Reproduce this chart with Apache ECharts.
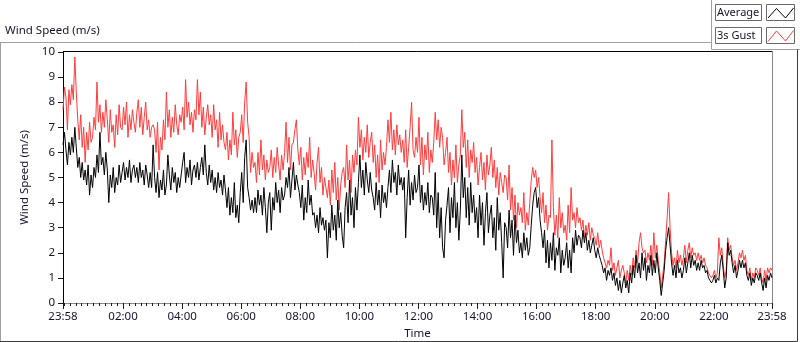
<!DOCTYPE html>
<html>
<head>
<meta charset="utf-8">
<title>Wind Speed</title>
<script src="https://cdn.jsdelivr.net/npm/echarts@6.0.0/dist/echarts.min.js"></script>
<style>
  html, body { margin: 0; padding: 0; background: #fff; }
  #chart { width: 800px; height: 342px; }
</style>
</head>
<body>
<div id="chart"></div>
<script>
// one sample every 3 minutes, starting 23:58
var stepMin = 3;

// 1 min average (m/s)
var average = [
  6.3, 6.8, 6.1, 5.5, 6.4, 5.9, 6.6, 6.0, 7.0, 6.2,  5.4, 5.8, 5.0, 5.6, 4.9, 5.3, 4.7, 5.5, 4.3, 5.1,
  4.6, 5.4, 5.0, 5.9, 5.2, 6.8, 5.5, 5.8, 5.1, 6.0,  5.3, 4.0, 5.1, 4.6, 5.4, 4.4, 5.0, 4.7, 5.5, 4.8,
  5.2, 5.6, 4.9, 5.4, 5.0, 5.7, 4.8, 5.3, 5.5, 5.0,  5.4, 4.8, 5.6, 5.0, 5.3, 4.7, 5.5, 5.1, 4.6, 5.2,
  4.6, 6.3, 5.0, 4.4, 5.2, 4.2, 4.9, 4.5, 5.3, 4.3,  4.7, 5.9, 5.1, 4.5, 5.4, 4.8, 5.2, 4.4, 5.0, 4.6,
  5.1, 5.6, 6.0, 4.8, 5.4, 5.0, 5.7, 4.7, 5.3, 5.5,  5.0, 5.6, 4.9, 5.4, 5.8, 5.1, 6.3, 5.2, 4.7, 5.5,
  4.8, 5.3, 4.5, 5.0, 4.4, 5.2, 4.6, 4.9, 4.3, 5.1,  4.5, 3.8, 4.6, 3.5, 4.2, 3.6, 4.8, 3.4, 3.9, 3.2,
  4.4, 5.2, 4.0, 5.8, 6.5, 4.6, 4.2, 3.7, 4.1, 3.6,  4.2, 3.6, 4.5, 3.9, 4.3, 3.5, 4.6, 3.8, 2.8, 4.0,
  4.4, 2.9, 4.2, 3.7, 4.8, 4.0, 4.5, 3.6, 4.6, 4.1,  4.3, 5.0, 4.6, 5.4, 4.2, 4.9, 5.6, 4.5, 5.1, 4.7,
  4.4, 3.8, 4.7, 3.3, 4.2, 3.6, 4.9, 3.9, 4.3, 3.5,  3.6, 3.0, 3.5, 2.8, 3.8, 3.1, 3.4, 2.9, 3.3, 1.8,
  3.2, 2.6, 3.9, 2.9, 3.5, 2.5, 4.1, 3.0, 3.6, 2.7,  2.2, 3.8, 4.4, 3.2, 4.9, 3.5, 4.2, 3.0, 4.6, 3.7,
  4.8, 5.9, 4.6, 5.3, 4.3, 5.6, 4.9, 4.4, 5.2, 4.5,  4.2, 3.7, 4.8, 3.9, 4.5, 3.4, 4.7, 4.0, 4.4, 3.8,
  4.6, 5.3, 4.4, 5.7, 4.8, 5.2, 4.3, 5.5, 4.7, 5.0,  4.5, 5.0, 2.6, 4.2, 5.3, 3.9, 4.8, 4.1, 5.1, 4.4,
  4.6, 5.5, 4.0, 4.7, 3.7, 4.4, 3.9, 4.8, 3.6, 4.3,  4.2, 3.5, 5.2, 3.0, 4.4, 2.6, 3.8, 2.2, 1.8, 3.3,
  3.9, 4.6, 2.8, 4.2, 3.4, 4.8, 3.0, 4.0, 2.5, 3.7,  5.9, 4.2, 5.0, 3.4, 4.6, 3.1, 4.8, 3.6, 4.3, 3.2,
  3.8, 2.6, 4.3, 3.1, 4.0, 2.3, 3.6, 4.4, 2.8, 3.5,  3.9, 2.6, 3.4, 2.1, 4.2, 2.9, 3.6, 2.4, 1.0, 3.2,
  3.0, 2.2, 3.7, 2.6, 3.3, 1.9, 3.5, 2.4, 2.9, 2.0,  2.4, 1.8, 2.8, 2.1, 2.6, 1.9, 2.2, 3.1, 3.9, 4.4,
  4.6, 3.8, 4.2, 3.3, 2.8, 2.2, 2.9, 1.6, 2.5, 1.4,  2.4, 1.7, 2.8, 1.3, 2.2, 1.9, 2.6, 1.2, 2.1, 1.5,
  1.8, 2.4, 1.4, 2.1, 1.2, 2.6, 2.0, 2.9, 2.3, 2.7,  2.6, 2.2, 2.9, 2.4, 2.8, 2.1, 2.5, 2.0, 2.3, 2.6,
  2.1, 1.8, 2.2, 1.9, 1.7, 1.5, 1.2, 1.4, 0.9, 1.3,  1.1, 1.4, 0.9, 1.2, 0.7, 1.0, 0.5, 0.9, 0.4, 0.8,
  1.1, 0.6, 0.9, 0.4, 1.2, 0.8, 1.5, 1.0, 1.9, 1.2,  1.6, 1.0, 2.0, 1.3, 1.8, 0.9, 1.5, 1.2, 1.9, 1.1,
  1.7, 1.2, 2.0, 1.4, 0.9, 0.3, 0.8, 1.3, 2.1, 2.6,  3.0, 2.3, 1.6, 1.1, 1.5, 1.0, 1.7, 1.2, 1.4, 1.0,
  1.3, 1.8, 1.2, 1.6, 2.0, 1.4, 1.9, 1.5, 1.7, 1.3,  1.6, 1.3, 1.7, 1.4, 1.5, 1.2, 1.3, 1.0, 0.9, 0.8,
  0.9, 1.1, 0.8, 1.0, 0.9, 1.6, 1.9, 1.3, 0.6, 1.0,  2.4, 1.9, 2.1, 1.6, 1.2, 1.5, 1.0, 1.3, 1.7, 1.4,
  1.7, 1.4, 1.6, 1.1, 0.9, 1.2, 0.7, 1.0, 0.8, 1.2,  1.1, 0.9, 1.2, 0.8, 0.5, 1.0, 0.6, 1.1, 0.9, 1.2,
  1.0
];

// 3 s gust (m/s)
var gust = [
  7.7, 8.6, 8.2, 6.9, 8.5, 7.9, 8.7, 8.1, 9.8, 8.4,  7.3, 6.5, 7.5, 6.2, 7.0, 5.6, 6.8, 6.1, 7.2, 6.4,
  6.6, 7.4, 6.9, 8.8, 7.2, 7.9, 6.8, 7.6, 7.0, 8.1,  7.3, 6.4, 7.7, 6.8, 7.1, 6.2, 7.5, 6.7, 7.9, 7.0,
  6.9, 7.8, 7.1, 8.0, 6.6, 7.5, 6.9, 7.7, 7.2, 6.8,  7.6, 8.1, 7.0, 7.8, 6.7, 7.4, 8.0, 6.9, 7.3, 6.6,
  7.0, 7.1, 6.9, 6.0, 7.2, 5.3, 6.6, 6.1, 7.3, 6.5,  8.4, 7.0, 7.7, 6.6, 7.4, 6.8, 7.9, 7.1, 6.7, 7.5,
  7.2, 7.8, 6.9, 8.9, 7.4, 8.0, 7.1, 7.6, 6.8, 7.7,  7.3, 8.9, 7.5, 8.4, 7.0, 7.8, 6.7, 7.4, 7.9, 7.1,
  7.5, 6.6, 7.9, 6.9, 7.3, 6.2, 7.6, 6.5, 7.1, 6.4,  6.1, 6.8, 5.7, 6.5, 5.9, 7.6, 6.3, 6.9, 5.8, 6.6,
  6.8, 7.5, 6.4, 8.0, 8.8, 7.2, 6.6, 5.2, 6.0, 5.4,  5.6, 4.8, 6.0, 5.1, 6.5, 5.3, 5.9, 4.9, 5.7, 5.2,
  5.4, 6.1, 5.0, 5.8, 5.2, 6.2, 5.5, 4.9, 5.9, 5.3,  6.0, 7.2, 5.6, 6.6, 5.3, 6.3, 6.4, 6.9, 7.3, 6.1,
  5.5, 6.2, 4.9, 5.8, 5.1, 6.0, 5.4, 6.6, 5.0, 5.7,  5.2, 4.5, 5.6, 6.2, 4.8, 5.4, 4.3, 5.0, 4.6, 4.2,
  4.9, 3.9, 5.3, 4.4, 5.6, 4.1, 5.0, 3.7, 4.7, 5.2,  5.4, 4.6, 6.3, 4.9, 5.7, 4.4, 5.9, 5.2, 6.1, 5.5,
  7.4, 6.2, 6.9, 5.7, 6.6, 6.0, 7.1, 5.8, 6.4, 6.8,  5.6, 6.3, 5.0, 5.9, 4.8, 6.5, 5.3, 6.0, 5.5, 6.2,
  7.3, 6.4, 7.6, 6.1, 6.9, 5.9, 7.1, 6.3, 6.7, 6.0,  6.5, 5.6, 6.9, 5.4, 6.2, 7.0, 8.0, 6.1, 5.8, 6.6,
  6.0, 7.4, 5.5, 6.6, 5.1, 6.3, 5.7, 6.8, 5.2, 6.1,  5.6, 6.4, 7.6, 6.5, 7.3, 6.2, 7.0, 6.6, 5.5, 6.0,
  6.6, 5.2, 6.0, 4.7, 5.7, 5.0, 6.3, 4.8, 5.5, 5.9,  7.7, 6.2, 6.8, 5.4, 6.5, 5.0, 6.1, 5.6, 6.4, 5.2,
  5.8, 4.7, 5.4, 6.0, 4.9, 5.6, 4.5, 5.9, 5.1, 5.5,  6.2, 5.0, 5.7, 4.6, 5.4, 4.3, 5.2, 4.8, 4.4, 5.1,
  5.0, 4.1, 5.5, 3.7, 4.6, 3.3, 4.3, 3.0, 4.0, 3.5,  3.8, 3.2, 4.4, 2.9, 3.6, 3.1, 4.0, 4.9, 5.4, 5.0,
  5.3, 4.6, 5.0, 4.2, 3.6, 4.4, 3.2, 3.9, 2.9, 3.5,  3.4, 6.5, 3.8, 2.7, 3.5, 2.6, 4.2, 3.0, 3.6, 2.8,
  3.1, 2.5, 3.9, 2.8, 4.6, 3.3, 3.6, 3.0, 3.8, 3.2,  3.4, 2.9, 3.3, 2.6, 3.1, 2.7, 3.2, 2.5, 3.0, 2.7,
  2.6, 2.3, 2.8, 2.2, 2.5, 2.1, 1.8, 1.6, 1.4, 1.7,  1.5, 2.2, 1.3, 1.6, 1.1, 1.4, 1.7, 1.0, 1.3, 1.5,
  1.2, 0.8, 1.3, 0.9, 1.5, 1.1, 1.8, 1.4, 2.1, 1.6,  2.4, 2.8, 2.2, 2.0, 2.1, 1.6, 2.0, 1.7, 2.3, 1.5,
  2.8, 1.8, 2.3, 1.7, 1.2, 0.6, 1.1, 1.6, 2.5, 3.4,  4.4, 3.0, 2.0, 1.5, 1.8, 1.4, 2.1, 1.6, 1.9, 1.5,
  1.8, 2.3, 1.6, 2.1, 2.4, 1.8, 2.2, 1.9, 2.0, 1.7,  2.0, 1.7, 1.9, 1.6, 1.8, 1.5, 1.4, 1.2, 1.1, 1.0,
  1.1, 1.3, 1.0, 1.2, 2.6, 1.9, 2.2, 1.5, 1.0, 1.3,  2.6, 2.1, 2.3, 1.8, 1.5, 1.7, 1.3, 1.6, 2.0, 1.8,
  2.1, 1.7, 1.9, 1.3, 1.1, 1.4, 0.9, 1.2, 1.0, 1.4,  1.3, 1.1, 1.4, 1.0, 0.8, 1.3, 0.9, 1.4, 1.2, 1.4,
  1.3
];

// x axis: minutes after 23:58
var tickLabels = ['23:58', '02:00', '04:00', '06:00', '08:00', '10:00', '12:00',
                  '14:00', '16:00', '18:00', '20:00', '22:00', '23:58'];
var tickMinutes = [0, 122, 242, 362, 482, 602, 722, 842, 962, 1082, 1202, 1322, 1440];

// small ticks every 12 min of clock time
var minorMinutes = [];
for (var k = 0; k < 120; k++) {
  if (k === 0 || k % 10 !== 0) minorMinutes.push(2 + k * 12);
}

function toPairs(arr) {
  var out = [];
  for (var i = 0; i < arr.length; i++) out.push([i * stepMin, arr[i]]);
  return out;
}

var font = 'Noto Sans';
var txt = '#14142e';

var chart = echarts.init(document.getElementById('chart'));

chart.setOption({
  animation: false,
  grid: { left: 63, right: 28, top: 52, bottom: 39, outerBoundsMode: 'none' },
  xAxis: [{
    type: 'value',
    min: 0,
    max: 1440,
    name: 'Time',
    nameLocation: 'middle',
    nameGap: 25,
    nameTextStyle: { fontFamily: font, fontSize: 11.5, color: txt },
    axisLine: { lineStyle: { color: '#8a8a8a', width: 1 } },
    axisTick: { customValues: tickMinutes, length: 6, lineStyle: { color: '#1a1a1a' } },
    axisLabel: {
      customValues: tickMinutes,
      margin: 8,
      fontFamily: font, fontSize: 11.5, color: txt,
      formatter: function (v) {
        var i = tickMinutes.indexOf(Math.round(v));
        return i >= 0 ? tickLabels[i] : '';
      }
    },
    splitLine: { show: false }
  }, {
    type: 'value',
    min: 0,
    max: 1440,
    position: 'bottom',
    axisLine: { show: false },
    axisTick: { customValues: minorMinutes, length: 3, lineStyle: { color: '#1a1a1a' } },
    axisLabel: { show: false },
    splitLine: { show: false }
  }],
  yAxis: {
    type: 'value',
    min: 0,
    max: 10,
    interval: 1,
    name: 'Wind Speed (m/s)',
    nameLocation: 'middle',
    nameGap: 26,
    nameTextStyle: { fontFamily: font, fontSize: 11.5, color: txt },
    axisLine: { show: true, lineStyle: { color: '#000', width: 1 } },
    axisTick: { show: true, length: 5, lineStyle: { color: '#1a1a1a' } },
    axisLabel: { margin: 8, fontFamily: font, fontSize: 11.5, color: txt },
    splitLine: { show: false }
  },
  series: [{
    name: '3s Gust',
    type: 'line',
    data: toPairs(gust),
    showSymbol: false,
    symbol: 'none',
    lineStyle: { color: '#ff3b3b', width: 1 },
    emphasis: { disabled: true }
  }, {
    name: 'Average',
    type: 'line',
    data: toPairs(average),
    showSymbol: false,
    symbol: 'none',
    lineStyle: { color: '#000', width: 1 },
    emphasis: { disabled: true }
  }],
  graphic: [
    // panel outline
    { type: 'line', shape: { x1: 0, y1: 42.5, x2: 711.5, y2: 42.5 }, style: { stroke: '#a0a0a0', lineWidth: 1 } },
    { type: 'line', shape: { x1: 0.5, y1: 42.5, x2: 0.5, y2: 342 }, style: { stroke: '#a0a0a0', lineWidth: 1 } },
    { type: 'line', shape: { x1: 711.5, y1: 0, x2: 711.5, y2: 49.5 }, style: { stroke: '#a0a0a0', lineWidth: 1 } },
    { type: 'line', shape: { x1: 711.5, y1: 49.5, x2: 800, y2: 49.5 }, style: { stroke: '#a0a0a0', lineWidth: 1 } },
    { type: 'line', shape: { x1: 797.5, y1: 49.5, x2: 797.5, y2: 341.5 }, style: { stroke: '#3c3c3c', lineWidth: 1 } },
    { type: 'line', shape: { x1: 0, y1: 341.5, x2: 797.5, y2: 341.5 }, style: { stroke: '#3c3c3c', lineWidth: 1 } },
    // plot frame top / right
    { type: 'line', shape: { x1: 63, y1: 51.5, x2: 772.5, y2: 51.5 }, style: { stroke: '#000', lineWidth: 1 } },
    { type: 'line', shape: { x1: 772.5, y1: 51.5, x2: 772.5, y2: 303 }, style: { stroke: '#8a8a8a', lineWidth: 1 } },
    // title
    { type: 'text', style: { text: 'Wind Speed (m/s)', x: 5, y: 31, verticalAlign: 'middle',
      font: '11.5px "Noto Sans"', fill: txt } },
    // legend
    { type: 'rect', shape: { x: 715.5, y: 4.5, width: 46, height: 16 }, style: { fill: '#fff', stroke: '#6a6a6a', lineWidth: 1 } },
    { type: 'rect', shape: { x: 766.5, y: 4.5, width: 28, height: 16 }, style: { fill: '#fff', stroke: '#6a6a6a', lineWidth: 1 } },
    { type: 'rect', shape: { x: 715.5, y: 27.5, width: 46, height: 16 }, style: { fill: '#fff', stroke: '#6a6a6a', lineWidth: 1 } },
    { type: 'rect', shape: { x: 766.5, y: 27.5, width: 28, height: 16 }, style: { fill: '#fff', stroke: '#6a6a6a', lineWidth: 1 } },
    { type: 'text', style: { text: 'Average', x: 717, y: 13, verticalAlign: 'middle', font: '11px "Noto Sans"', fill: txt } },
    { type: 'text', style: { text: '3s Gust', x: 717, y: 36, verticalAlign: 'middle', font: '11px "Noto Sans"', fill: txt } },
    { type: 'polyline', shape: { points: [[768, 18], [776.5, 8.5], [785.5, 18], [793.5, 8]] }, style: { stroke: '#000', lineWidth: 1, fill: null } },
    { type: 'polyline', shape: { points: [[768, 41.5], [776.5, 31], [785.5, 41], [793.5, 30.5]] }, style: { stroke: '#ff3b3b', lineWidth: 1, fill: null } }
  ]
});
</script>
</body>
</html>
